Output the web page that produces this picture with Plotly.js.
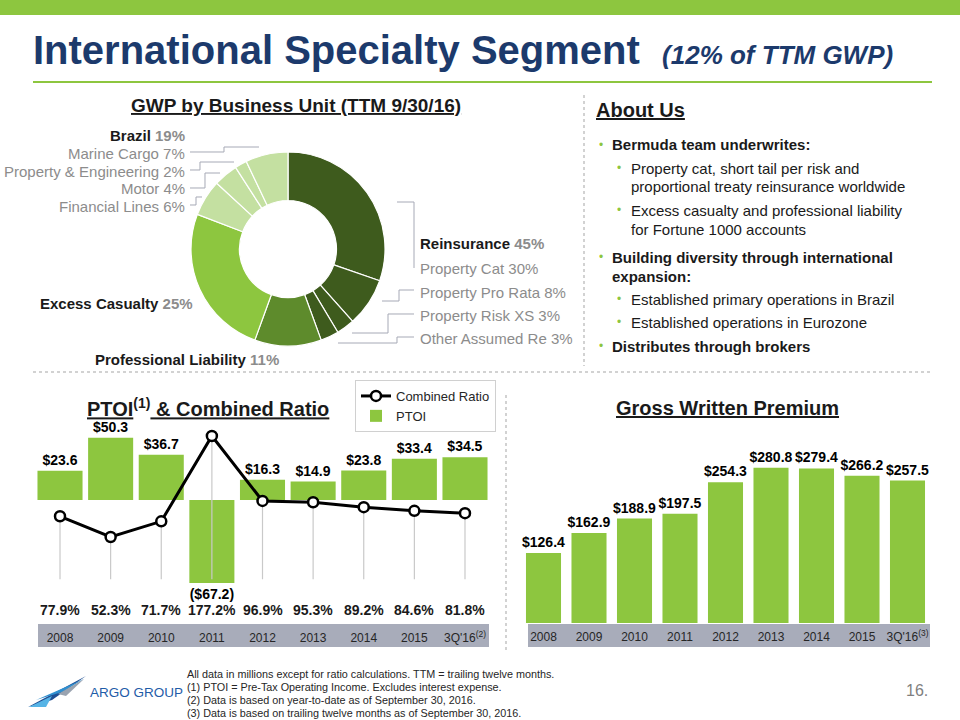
<!DOCTYPE html>
<html><head><meta charset="utf-8">
<script src="https://cdn.plot.ly/plotly-3.0.1.min.js"></script>
<style>html,body{margin:0;padding:0;background:#fff}#chart{width:960px;height:720px}</style>
</head><body><div id="chart"></div>
<script>
// ---------- DATA ----------
const donutLabels = ['Property Cat','Property Pro Rata','Property Risk XS','Other Assumed Re','Professional Liability','Excess Casualty','Financial Lines','Motor','Property & Engineering','Marine Cargo'];
const donutValues = [30, 8, 3, 3, 11, 25, 6, 4, 2, 7];
const groupLabels = ['Reinsurance','Excess Casualty','Professional Liability','Brazil'];
const groupValues = [45, 25, 11, 19];

const years = ['2008','2009','2010','2011','2012','2013','2014','2015',"3Q'16"];
const ptoiTickLabels = ['2008','2009','2010','2011','2012','2013','2014','2015',"3Q'16<sup>(2)</sup>"];
const gwpTickLabels  = ['2008','2009','2010','2011','2012','2013','2014','2015',"3Q'16<sup>(3)</sup>"];
const ptoi = [23.6, 50.3, 36.7, -67.2, 16.3, 14.9, 23.8, 33.4, 34.5];
const combinedRatio = [77.9, 52.3, 71.7, 177.2, 96.9, 95.3, 89.2, 84.6, 81.8];
const gwp = [126.4, 162.9, 188.9, 197.5, 254.3, 280.8, 279.4, 266.2, 257.5];

// ---------- STYLE ----------
const FONT = 'Liberation Sans, Arial, sans-serif';
const GREEN = '#8dc63f';
const NAVY = '#1c3a6c';
const GRAY = '#8c8c8c';
const DARK = '#1a1a1a';
const LEAD = '#a6a9b6';
const donutColors = ['#3e5b1d','#3e5b1d','#3e5b1d','#3e5b1d','#5e8b2c','#8dc63f','#c4e0a1','#c4e0a1','#c4e0a1','#c4e0a1'];

const W = 960, H = 720;
const X = p => p / W;
const Y = p => 1 - p / H;

const annotations = [];
function ann(text, x, y, o) {
  o = o || {};
  annotations.push(Object.assign({
    text: text, xref: 'paper', yref: 'paper', x: X(x), y: Y(y),
    xanchor: 'left', yanchor: 'middle', showarrow: false,
    font: {family: FONT, size: 15, color: DARK}
  }, o));
}
const shapes = [];
function poly(pts, color, w) {
  let d = pts.map((p, i) => (i ? 'L' : 'M') + X(p[0]).toFixed(5) + ',' + Y(p[1]).toFixed(5)).join(' ');
  shapes.push({type: 'path', xref: 'paper', yref: 'paper', path: d, line: {color: color, width: w || 1}});
}
function fillPoly(pts, color) {
  let d = pts.map((p, i) => (i ? 'L' : 'M') + X(p[0]).toFixed(5) + ',' + Y(p[1]).toFixed(5)).join(' ') + ' Z';
  shapes.push({type: 'path', xref: 'paper', yref: 'paper', path: d, fillcolor: color, line: {width: 0}});
}
function rect(x0, y0, x1, y1, color, layer) {
  shapes.push({type: 'rect', xref: 'paper', yref: 'paper', x0: X(x0), x1: X(x1), y0: Y(y1), y1: Y(y0),
    fillcolor: color, line: {width: 0}, layer: layer || 'below'});
}
function dotted(x0, y0, x1, y1) {
  shapes.push({type: 'line', xref: 'paper', yref: 'paper', x0: X(x0), x1: X(x1), y0: Y(y0), y1: Y(y1),
    line: {color: '#c4c4c4', width: 1.5, dash: 'dot'}});
}

// ---------- HEADER ----------
rect(0, 0, 960, 15, GREEN);
shapes.push({type: 'line', xref: 'paper', yref: 'paper', x0: X(33), x1: X(932), y0: Y(82), y1: Y(82), line: {color: GREEN, width: 2}});
ann('<b>International Specialty Segment</b>  <span style="font-size:26px"><b><i>(12% of TTM GWP)</i></b></span>', 31, 50,
  {font: {family: FONT, size: 40, color: NAVY}});

// separators
dotted(33, 372, 930, 372);
dotted(584, 95, 584, 366);
dotted(506, 395, 506, 652);

// ---------- DONUT SECTION ----------
ann('<u><b>GWP by Business Unit (TTM 9/30/16)</b></u>', 296, 105, {xanchor: 'center', font: {family: FONT, size: 19, color: DARK}});

function pct(v) { return v + '%'; }
function boldLabel(i) {
  return '<b>' + groupLabels[i] + ' <span style="color:' + GRAY + '">' + pct(groupValues[i]) + '</span></b>';
}
function subLabel(i) { return donutLabels[i] + ' ' + pct(donutValues[i]); }
const grayFont = {family: FONT, size: 15, color: GRAY};

// left side (Brazil)
ann(boldLabel(3), 187, 135, {xanchor: 'right'});
ann(subLabel(9), 187, 153, {xanchor: 'right', font: grayFont});
ann(subLabel(8), 187, 171, {xanchor: 'right', font: grayFont});
ann(subLabel(7), 187, 189, {xanchor: 'right', font: grayFont});
ann(subLabel(6), 187, 207, {xanchor: 'right', font: grayFont});
ann(boldLabel(1), 195, 303, {xanchor: 'right'});
ann(boldLabel(2), 187, 359, {xanchor: 'center'});
// right side (Reinsurance)
ann(boldLabel(0), 418, 243);
ann(subLabel(0), 418, 268, {font: grayFont});
ann(subLabel(1), 418, 292, {font: grayFont});
ann(subLabel(2), 418, 315, {font: grayFont});
ann(subLabel(3), 418, 338, {font: grayFont});

// leader lines
poly([[190,152],[224,152],[224,147],[259,147]], LEAD);
poly([[190,170],[200,170],[200,162],[234,162]], LEAD);
poly([[190,188],[205,188],[205,173],[220,173]], LEAD);
poly([[190,205],[196,205],[196,197],[202,197]], LEAD);
poly([[397,202],[414,202],[414,268]], LEAD);
poly([[382,301],[399,301],[399,290],[414,290]], LEAD);
poly([[352,333],[388,333],[388,314],[414,314]], LEAD);
poly([[338,343],[397,343],[397,337],[414,337]], LEAD);

// ---------- ABOUT US ----------
ann('<u><b>About Us</b></u>', 594, 110, {font: {family: FONT, size: 20, color: DARK}});
const bullet = (x, y) => ann('•', x, y, {font: {family: FONT, size: 12, color: GREEN}});
bullet(597, 145); ann('<b>Bermuda team underwrites:</b>', 610, 145);
bullet(615, 168); ann('Property cat, short tail per risk and', 629, 168);
ann('proportional treaty reinsurance worldwide', 629, 187);
bullet(615, 210); ann('Excess casualty and professional liability', 629, 210);
ann('for Fortune 1000 accounts', 629, 229);
bullet(597, 257); ann('<b>Building diversity through international</b>', 610, 257);
ann('<b>expansion:</b>', 610, 276);
bullet(615, 299); ann('Established primary operations in Brazil', 629, 299);
bullet(615, 322); ann('Established operations in Eurozone', 629, 322);
bullet(597, 346); ann('<b>Distributes through brokers</b>', 610, 346);

// ---------- PTOI SECTION ----------
ann('<b><u>PTOI</u><sup>(1)</sup><u> & Combined Ratio</u></b>', 208, 407, {xanchor: 'center', font: {family: FONT, size: 20, color: DARK}});
rect(38, 624, 489, 647, '#a8acba');
rect(358, 383, 488, 430, '#d6d6d6');
combinedRatio.forEach((v, i) => {
  annotations.push({xref: 'x', yref: 'paper', x: i, y: Y(610), text: '<b>' + v.toFixed(1) + '%</b>',
    showarrow: false, xanchor: 'center', yanchor: 'middle', font: {family: FONT, size: 14, color: DARK}});
});

// ---------- GWP SECTION ----------
ann('<u><b>Gross Written Premium</b></u>', 727, 408, {xanchor: 'center', font: {family: FONT, size: 20, color: DARK}});
rect(528, 624, 930, 647, '#a8acba');

// ---------- FOOTER ----------
fillPoly([[28,707],[86,676],[52,700]], '#1e4e93');
fillPoly([[36,700],[84,679],[62,692]], '#2f8fd0');
fillPoly([[29,707],[52,696],[46,707]], '#56b4e6');
fillPoly([[58,694],[84,679],[66,696]], '#9aa3b0');
ann('ARGO GROUP', 88, 692, {font: {family: FONT, size: 13.5, color: '#1f5ca8'}});
const foot = ['All data in millions except for ratio calculations. TTM = trailing twelve months.',
  '(1) PTOI = Pre-Tax Operating Income. Excludes interest expense.',
  '(2) Data is based on year-to-date as of September 30, 2016.',
  '(3) Data is based on trailing twelve months as of September 30, 2016.'];
[674, 687, 700, 713].forEach((y, i) => ann(foot[i], 185, y, {font: {family: FONT, size: 10.8, color: '#262626'}}));
ann('16.', 930, 690, {xanchor: 'right', font: {family: FONT, size: 16, color: '#7f7f7f'}});

// ---------- TRACES ----------
const fmt = v => v < 0 ? '<b>($' + Math.abs(v).toFixed(1) + ')</b>' : '<b>$' + v.toFixed(1) + '</b>';
const data = [
  {type: 'pie', labels: donutLabels, values: donutValues, sort: false, direction: 'clockwise', rotation: 0,
   hole: 0.5, textinfo: 'none', hoverinfo: 'skip', showlegend: false,
   marker: {colors: donutColors, line: {color: '#ffffff', width: 1.2}},
   domain: {x: [X(191), X(385)], y: [Y(346), Y(152)]}},
  {type: 'scatter', mode: 'lines+markers', name: 'Combined Ratio', x: years, y: combinedRatio, xaxis: 'x', yaxis: 'y2',
   line: {color: '#000000', width: 3},
   marker: {symbol: 'circle', size: 10, color: '#ffffff', line: {color: '#000000', width: 2.5}},
   error_y: {type: 'data', symmetric: false, array: combinedRatio.map(() => 0), arrayminus: combinedRatio,
             color: '#c9c9c9', thickness: 1.2, width: 0},
   cliponaxis: false, hoverinfo: 'skip'},
  {type: 'bar', name: 'PTOI', x: years, y: ptoi, xaxis: 'x', yaxis: 'y', width: 0.89,
   marker: {color: GREEN}, text: ptoi.map(fmt), textposition: 'outside', constraintext: 'none',
   textfont: {family: FONT, size: 14, color: '#000'}, cliponaxis: false, hoverinfo: 'skip'},
  {type: 'bar', name: 'GWP', x: years, y: gwp, xaxis: 'x2', yaxis: 'y3', width: 0.77, showlegend: false,
   marker: {color: GREEN}, text: gwp.map(fmt), textposition: 'outside', constraintext: 'none',
   textfont: {family: FONT, size: 14, color: '#000'}, cliponaxis: false, hoverinfo: 'skip'}
];

const axBase = {showgrid: false, zeroline: false, showline: false, fixedrange: true};
const layout = {
  width: W, height: H, margin: {l: 0, r: 0, t: 0, b: 0},
  paper_bgcolor: '#ffffff', plot_bgcolor: 'rgba(0,0,0,0)',
  font: {family: FONT, color: DARK},
  xaxis: Object.assign({}, axBase, {domain: [X(34.7), X(490.3)], anchor: 'y', type: 'category',
    categoryorder: 'array', categoryarray: years, range: [-0.5, 8.5], autorange: false,
    tickvals: years, ticktext: ptoiTickLabels, ticks: '', ticklabelstandoff: 5, tickangle: 0,
    tickfont: {family: FONT, size: 12, color: '#262626'}}),
  yaxis: Object.assign({}, axBase, {domain: [Y(624), Y(425)], range: [-100.4, 60.7], autorange: false, showticklabels: false, anchor: 'x'}),
  yaxis2: Object.assign({}, axBase, {overlaying: 'y', anchor: 'x', side: 'right', range: [-55.3, 190.8], autorange: false, visible: false}),
  xaxis2: Object.assign({}, axBase, {domain: [X(520.75), X(930.25)], anchor: 'y3', type: 'category',
    categoryorder: 'array', categoryarray: years, range: [-0.5, 8.5], autorange: false,
    tickvals: years, ticktext: gwpTickLabels, ticks: '', ticklabelstandoff: 5, tickangle: 0,
    tickfont: {family: FONT, size: 12, color: '#262626'}}),
  yaxis3: Object.assign({}, axBase, {domain: [Y(623), Y(430)], range: [0, 349], autorange: false, showticklabels: false, anchor: 'x2'}),
  showlegend: true,
  legend: {x: X(355), y: Y(380), xanchor: 'left', yanchor: 'top', bgcolor: '#ffffff', bordercolor: '#d0d0d0', borderwidth: 1,
    font: {family: FONT, size: 13, color: '#262626'}, traceorder: 'normal', tracegroupgap: 2},
  annotations: annotations,
  shapes: shapes
};

Plotly.newPlot('chart', data, layout, {displayModeBar: false, staticPlot: true});
</script></body></html>
